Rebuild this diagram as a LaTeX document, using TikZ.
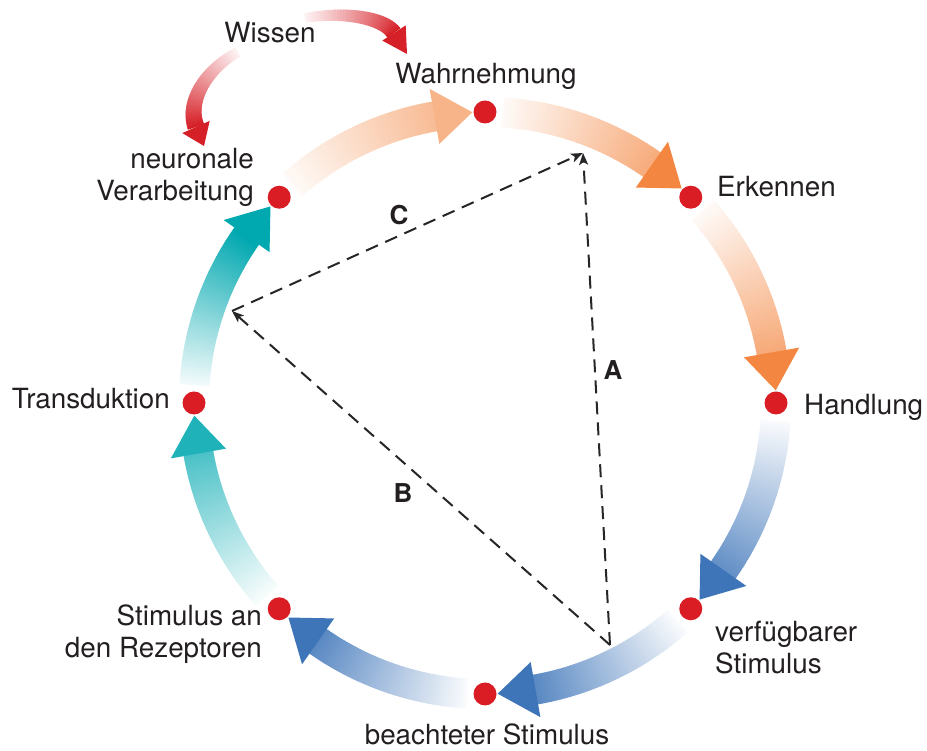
\documentclass[tikz,border=0pt]{standalone}
\usepackage{fontspec}
\setmainfont{TeX Gyre Heros}
\usetikzlibrary{arrows.meta}
\definecolor{dotred}{RGB}{218,28,37}
\definecolor{wred}{RGB}{214,32,39}
\definecolor{orng}{RGB}{243,134,64}
\definecolor{blu}{RGB}{62,117,185}
\definecolor{tea}{RGB}{0,168,176}
\definecolor{txt}{RGB}{35,31,32}
% gradient band along the circle: tail angle, head base angle, tip angle, colour, start %, end %, head %
\newcommand{\gradarc}[7]{%
  \foreach \i in {0,...,71}{%
    \pgfmathsetmacro{\aa}{#1+(#2-#1)*\i/72}%
    \pgfmathsetmacro{\ab}{#1+(#2-#1)*(\i+1.4)/72}%
    \pgfmathsetmacro{\pc}{#5+(#6-#5)*\i/71}%
    \draw[line width=30pt, draw={#4!\pc!white}] (\aa:291pt) arc[start angle=\aa, end angle=\ab, radius=291pt];
  }%
  \fill[#4!#7!white] (#2:263pt) -- (#2:319pt) -- (#3:291pt) -- cycle;
}
% gradient band along a Bezier curve
\newcommand{\gradbez}[6]{%
  \foreach \i in {0,...,39}{%
    \pgfmathsetmacro{\ta}{\i/40}%
    \pgfmathsetmacro{\tb}{min(1,(\i+1.6)/40)}%
    \pgfmathsetmacro{\pc}{6+94*\i/39}%
    \pgfmathsetmacro{\lw}{#6*(0.6+0.4*\i/39)}%
    \path (#1) .. controls (#2) and (#3) .. (#4) coordinate[pos=\ta] (g1) coordinate[pos=\tb] (g2);
    \draw[line width=\lw pt, draw={#5!\pc!white}] (g1) -- (g2);
  }%
}
\begin{document}
\begin{tikzpicture}[x=1pt,y=1pt,
  dot/.style={circle, fill=dotred, minimum size=23pt, inner sep=0pt},
  lbl/.style={font=\fontsize{27.8}{32}\selectfont, text=txt, inner sep=0pt},
  abc/.style={font=\fontsize{26}{30}\selectfont\bfseries, text=txt, inner sep=0pt},
  dsh/.style={draw=black!85, line width=2pt, dash pattern=on 13pt off 8pt,
    -{Stealth[length=12pt,width=9pt,inset=3pt]}}]
\useasboundingbox (0,0) rectangle (927,751);

% circle of gradient arrows
\begin{scope}[shift={(485,348)}]
  \gradarc{131.5}{100}{92.5}{orng}{4}{55}{62}
  \gradarc{86.5}{55}{47.5}{orng}{4}{68}{100}
  \gradarc{41.5}{10}{2.5}{orng}{4}{70}{100}
  \gradarc{-3.5}{-35}{-42.5}{blu}{3}{80}{100}
  \gradarc{-48.5}{-80}{-87.5}{blu}{3}{85}{100}
  \gradarc{-93.5}{-125}{-132.5}{blu}{3}{85}{100}
  \gradarc{-138.5}{-170}{-177.5}{tea}{3}{70}{88}
  \gradarc{176.5}{145}{137.5}{tea}{5}{100}{100}
  \node[dot] (wahr) at (90:291pt) {};
  \node[dot] (erk) at (45:291pt) {};
  \node[dot] (hand) at (0:291pt) {};
  \node[dot] (verf) at (-45:291pt) {};
  \node[dot] (beach) at (-90:291pt) {};
  \node[dot] (rez) at (-135:291pt) {};
  \node[dot] (trans) at (180:291pt) {};
  \node[dot] (neur) at (135:291pt) {};
\end{scope}

% Wissen arrows
\coordinate (w1a) at (305,733);
\coordinate (w1b) at (345,740);
\coordinate (w1c) at (384,733);
\coordinate (w1d) at (394,718);
\gradbez{w1a}{w1b}{w1c}{w1d}{wred}{16}
\fill[wred] (405.7,725.6) -- (382.3,710.4) -- (407,697) -- cycle;
\coordinate (w2a) at (238,699);
\coordinate (w2b) at (208,683);
\coordinate (w2c) at (186,651);
\coordinate (w2d) at (196,624);
\gradbez{w2a}{w2b}{w2c}{w2d}{wred}{17}
\fill[wred] (209.7,630.1) -- (182.3,617.9) -- (204,605) -- cycle;

% dashed triangle
\coordinate (pb) at (610,106);
\coordinate (pt) at (583,598);
\coordinate (pl) at (232,440);
\draw[dsh] (pb) -- (pt);
\draw[dsh] (pb) -- (pl);
\draw[dsh] (pl) -- (pt);
\node[abc] (la) at (613,381) {A};
\node[abc] (lb) at (403,258) {B};
\node[abc] (lc) at (399,536) {C};

% labels
\node[lbl, anchor=base] (twissen) at (270,708) {Wissen};
\node[lbl, anchor=base] (twahr) at (486,667) {Wahrnehmung};
\node[lbl, anchor=base west] (terk) at (717,554) {Erkennen};
\node[lbl, anchor=base west] (thand) at (804,336) {Handlung};
\node[lbl, anchor=west, align=left] (tverf) at (715,103.5) {verfügbarer\\Stimulus};
\node[lbl, anchor=base] (tbeach) at (487,6) {beachteter Stimulus};
\node[lbl, anchor=east, align=right] (trez) at (262,117) {Stimulus an\\den Rezeptoren};
\node[lbl, anchor=base east] (ttrans) at (170,342) {Transduktion};
\node[lbl, anchor=east, align=right] (tneur) at (254,573.5) {neuronale\\Verarbeitung};
\end{tikzpicture}
\end{document}
